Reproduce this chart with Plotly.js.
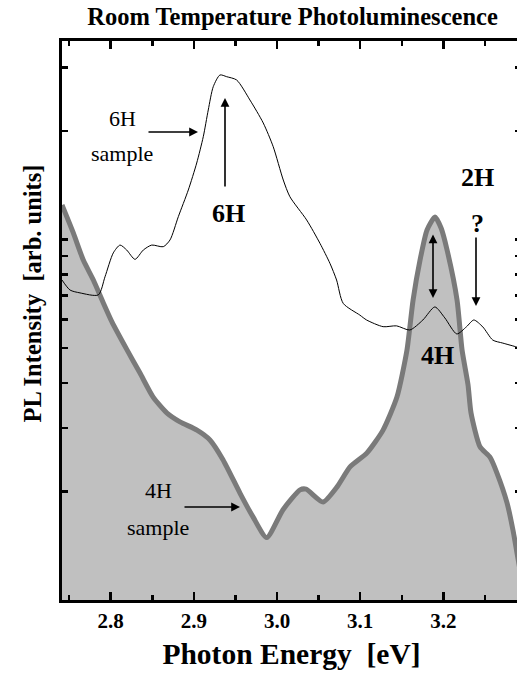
<!DOCTYPE html>
<html>
<head>
<meta charset="utf-8">
<script src="https://cdn.plot.ly/plotly-3.0.1.min.js"></script>
<style>
  html, body { margin: 0; padding: 0; background: #fff; overflow: hidden; }
  #chart { width: 524px; height: 677px; }
</style>
</head>
<body>
<div id="chart"></div>
<script>
// ---- Data ----
// 4H sample (grey filled curve)
const energy4H = [2.7414, 2.7550, 2.7670, 2.7791, 2.7911, 2.8016, 2.8196, 2.8352, 2.8508, 2.8677,
  2.8833, 2.9037, 2.9193, 2.9350, 2.9554, 2.9711, 2.9876, 3.0072, 3.0277, 3.0349,
  3.0553, 3.0722, 3.0878, 3.1082, 3.1275, 3.1443, 3.1563, 3.1636, 3.1720, 3.1804,
  3.1900, 3.1973, 3.2045, 3.2165, 3.2225, 3.2297, 3.2333, 3.2441, 3.2561, 3.2645,
  3.2766, 3.2838, 3.2886, 3.2934];
const pl4H = [12.47, 10.43, 8.77, 7.72, 6.67, 5.90, 4.94, 4.26, 3.66, 3.30,
  3.12, 2.96, 2.78, 2.45, 1.98, 1.70, 1.49, 1.78, 2.02, 2.03,
  1.87, 2.06, 2.34, 2.56, 2.96, 3.66, 4.94, 6.79, 8.77, 10.63,
  11.54, 10.76, 9.35, 6.79, 4.94, 3.95, 3.30, 2.66, 2.49, 2.25,
  1.86, 1.56, 1.35, 1.17];

// 6H sample (thin black curve)
const energy6H = [2.7414, 2.7511, 2.7631, 2.7851, 2.7931, 2.8031, 2.8112, 2.8192, 2.8292, 2.8392,
  2.8493, 2.8632, 2.8713, 2.8813, 2.8933, 2.9034, 2.9113, 2.9173, 2.9233, 2.9314,
  2.9394, 2.9514, 2.9674, 2.9834, 2.9954, 3.0075, 3.0155, 3.0356, 3.0516, 3.0636,
  3.0716, 3.0796, 3.0996, 3.1077, 3.1276, 3.1438, 3.1597, 3.1754, 3.1898, 3.2018,
  3.2162, 3.2279, 3.2367, 3.2475, 3.2595, 3.2715, 3.2884, 3.2934];
const pl6H = [7.72, 7.24, 7.11, 7.02, 7.88, 9.18, 9.65, 9.35, 8.81, 9.35,
  9.65, 9.55, 9.97, 11.57, 13.72, 16.30, 19.28, 22.87, 26.54, 28.60,
  28.29, 27.70, 24.38, 21.05, 18.09, 14.62, 13.14, 11.33, 9.76, 8.59,
  7.72, 6.65, 6.17, 5.98, 5.73, 5.76, 5.61, 5.98, 6.50, 6.06,
  5.47, 5.73, 5.98, 5.72, 5.26, 5.16, 5.03, 4.98];

// Axis ticks
const xTickVals = [2.8, 2.9, 3.0, 3.1, 3.2];
const xTickText = ['2.8', '2.9', '3.0', '3.1', '3.2'];
const yTickVals = [2, 3, 4, 5, 6, 7, 8, 9, 10, 20, 30];

// ---- Layout helpers (plot area in pixels) ----
const PL = 62, PR = 521, PT = 41, PB = 600;
const px = x => (x - PL) / (PR - PL);
const py = y => (PB - y) / (PB - PT);
const SERIF = 'Liberation Serif, Times New Roman, serif';

function label(x, y, text, size, bold, angle) {
  return { xref: 'paper', yref: 'paper', x: px(x), y: py(y), text: text, showarrow: false,
    xanchor: 'center', yanchor: 'middle', textangle: angle || 0,
    font: { family: SERIF, size: size, color: '#000', weight: bold ? 'bold' : 'normal' } };
}
function arrow(tx, ty, fx, fy, both) {
  return { xref: 'paper', yref: 'paper', x: px(tx), y: py(ty), ax: fx - tx, ay: fy - ty,
    axref: 'pixel', ayref: 'pixel', text: '', showarrow: true,
    arrowhead: 2, arrowsize: 1.1, arrowwidth: 1.6, arrowcolor: '#000', standoff: 0, startstandoff: 0,
    arrowside: both ? 'end+start' : 'end', startarrowhead: 2, startarrowsize: 1.1 };
}

const traces = [
  {
    x: energy4H, y: pl4H, type: 'scatter', mode: 'lines', name: '4H sample',
    fill: 'tozeroy', fillcolor: '#c0c0c0',
    line: { color: '#7a7a7a', width: 5, shape: 'spline', smoothing: 0.6 },
    hoverinfo: 'x+y'
  },
  {
    x: energy6H, y: pl6H, type: 'scatter', mode: 'lines', name: '6H sample',
    line: { color: '#000', width: 1, shape: 'spline', smoothing: 0.7 },
    hoverinfo: 'x+y'
  }
];

const layout = {
  width: 524, height: 677, autosize: false,
  margin: { l: PL, r: 524 - PR, t: PT, b: 677 - PB, pad: 0 },
  paper_bgcolor: '#fff', plot_bgcolor: '#fff',
  showlegend: false,
  title: {
    text: 'Room Temperature Photoluminescence',
    font: { family: SERIF, size: 24.5, color: '#000', weight: 'bold' },
    xref: 'paper', x: px(292.5), xanchor: 'center',
    yref: 'container', y: 1 - 16 / 677, yanchor: 'middle'
  },
  xaxis: {
    range: [2.7414, 3.2934],
    tickmode: 'array', tickvals: xTickVals, ticktext: xTickText,
    ticks: 'inside', ticklen: 8, tickwidth: 2.5, tickcolor: '#000',
    minor: { tickmode: 'linear', tick0: 2.75, dtick: 0.1, ticks: 'inside', ticklen: 5, tickwidth: 2.5, tickcolor: '#000', showgrid: false },
    showline: true, linewidth: 3, linecolor: '#000', mirror: 'allticks',
    showgrid: false, zeroline: false,
    tickfont: { family: SERIF, size: 21, color: '#000', weight: 'bold' },
    title: { text: 'Photon Energy  [eV]', standoff: 12,
      font: { family: SERIF, size: 29.5, color: '#000', weight: 'bold' } }
  },
  yaxis: {
    type: 'log', range: [0, 1.5506],
    tickmode: 'array', tickvals: yTickVals, showticklabels: false,
    ticks: 'inside', ticklen: 6, tickwidth: 2.5, tickcolor: '#000',
    showline: true, linewidth: 3, linecolor: '#000', mirror: 'allticks',
    showgrid: false, zeroline: false
  },
  annotations: [
    label(32, 293.5, 'PL Intensity  [arb. units]', 24.5, true, -90),
    label(122, 118, '6H', 22, false),
    label(122, 153, 'sample', 22, false),
    arrow(198, 132, 147, 132, false),
    label(228, 213, '6H', 26, true),
    arrow(225, 98, 225, 188, false),
    label(477, 177, '2H', 26, true),
    label(477, 223, '?', 26, true),
    arrow(476, 306, 476, 236, false),
    arrow(433, 298, 433, 233, true),
    label(437, 355, '4H', 26, true),
    label(158, 490, '4H', 22, false),
    label(158, 527, 'sample', 22, false),
    arrow(240, 507, 183, 507, false)
  ]
};

Plotly.newPlot('chart', traces, layout, { displayModeBar: false, staticPlot: true });
</script>
</body>
</html>
